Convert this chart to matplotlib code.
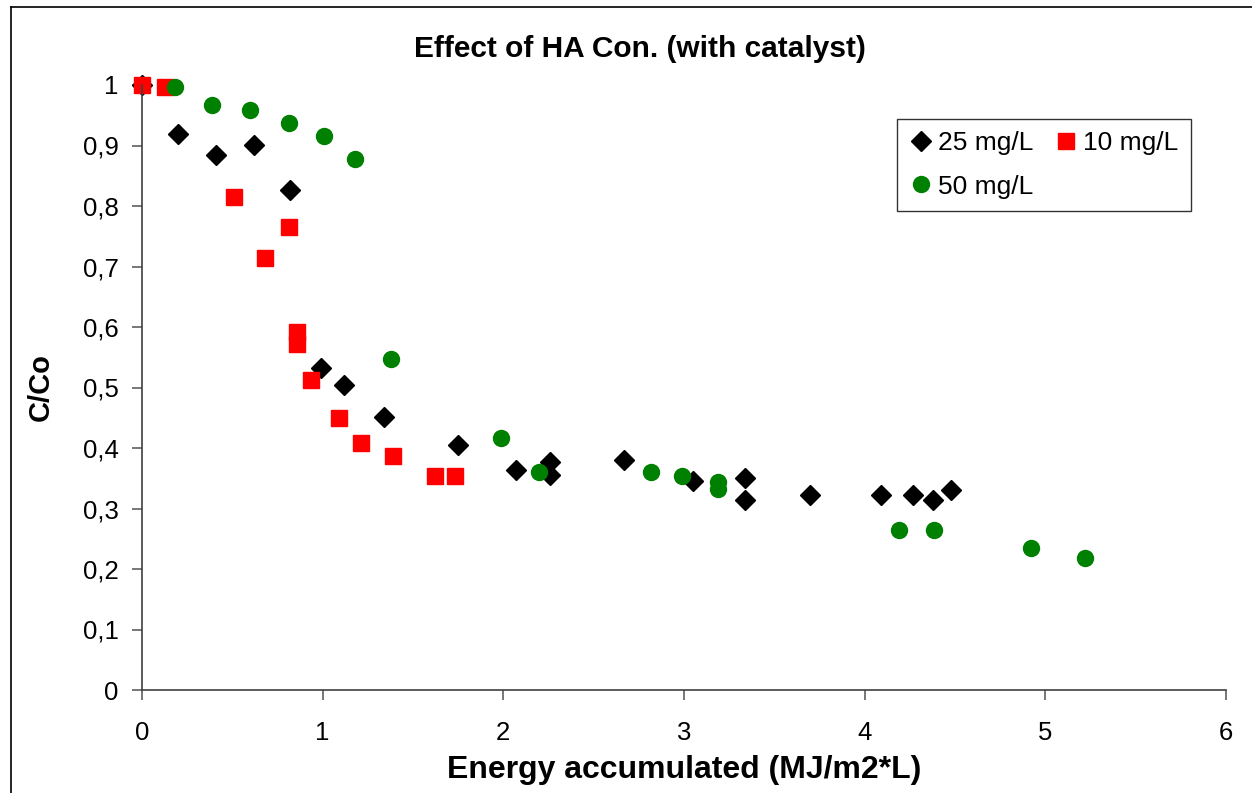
import matplotlib.pyplot as plt
from matplotlib.lines import Line2D
from matplotlib.ticker import FuncFormatter

# 25 mg/L
x25 = [0.0, 0.20, 0.41, 0.62, 0.82, 0.99, 1.12, 1.34, 1.75, 2.07, 2.26, 2.26,
       2.67, 3.05, 3.34, 3.34, 3.70, 4.09, 4.27, 4.38, 4.48]
y25 = [1.0, 0.919, 0.884, 0.901, 0.826, 0.532, 0.504, 0.452, 0.405, 0.364, 0.377, 0.355,
       0.380, 0.346, 0.351, 0.314, 0.322, 0.322, 0.322, 0.314, 0.331]

# 10 mg/L
x10 = [0.0, 0.13, 0.51, 0.68, 0.815, 0.86, 0.86, 0.935, 1.09, 1.21, 1.39, 1.62, 1.73]
y10 = [1.0, 0.997, 0.815, 0.714, 0.765, 0.592, 0.572, 0.512, 0.450, 0.408, 0.386, 0.353, 0.353]

# 50 mg/L
x50 = [0.18, 0.39, 0.60, 0.815, 1.01, 1.18, 1.38, 1.985, 2.20, 2.82, 2.99, 3.19, 3.19,
       4.19, 4.385, 4.92, 5.22]
y50 = [0.997, 0.967, 0.958, 0.937, 0.916, 0.878, 0.547, 0.416, 0.361, 0.361, 0.353, 0.344, 0.332,
       0.264, 0.264, 0.235, 0.218]

plt.rcParams['font.family'] = ['Liberation Sans', 'DejaVu Sans']

W, H = 1252, 793
fig = plt.figure(figsize=(W / 100, H / 100), dpi=100)
ax = fig.add_axes([142 / W, 1 - 690 / H, (1226 - 142) / W, (690 - 85) / H])

h25, = ax.plot(x25, y25, 'D', color='black', ms=10.2, mec='black', label='25 mg/L', clip_on=False)
h10, = ax.plot(x10, y10, 's', color='#ff0000', ms=11.5, mec='#ff0000', label='10 mg/L', clip_on=False)
h50, = ax.plot(x50, y50, 'o', color='#008000', ms=11.5, mec='#008000', label='50 mg/L', clip_on=False)

ax.set_xlim(0, 6)
ax.set_ylim(0, 1)
ax.set_xticks(range(7))
ax.set_yticks([i / 10 for i in range(11)])
ax.yaxis.set_major_formatter(FuncFormatter(lambda v, p: '0' if v == 0 else ('1' if v == 1 else f'{v:.1f}'.replace('.', ','))))

for s in ['top', 'right']:
    ax.spines[s].set_visible(False)
for s in ['left', 'bottom']:
    ax.spines[s].set_color('#404040')
    ax.spines[s].set_linewidth(1.2)
ax.tick_params(direction='out', length=7, width=1.2, color='#606060', labelsize=18.5)
ax.tick_params(axis='x', pad=15)
ax.tick_params(axis='y', pad=10)

ax.set_xlabel('Energy accumulated (MJ/m2*L)', fontsize=23, fontweight='bold')
ax.xaxis.set_label_coords(0.5, (690 - 755) / 605)
ax.set_ylabel('C/Co', fontsize=21, fontweight='bold', labelpad=20)
fig.text(640 / W, 1 - 49 / H, 'Effect of HA Con. (with catalyst)', fontsize=21.5, fontweight='bold',
         ha='center', va='center')

# row-wise order: 25, 10 / 50
leg = ax.legend([h25, h50, h10], ['25 mg/L', '50 mg/L', '10 mg/L'], ncol=2, loc='upper left',
                bbox_to_anchor=((897 - 142) / (1226 - 142), (690 - 119) / 605),
                fontsize=19, frameon=True, fancybox=False, edgecolor='black', borderpad=0.45,
                handletextpad=0.2, columnspacing=0.8, handlelength=0.9, labelspacing=0.75,
                borderaxespad=0)
leg.get_frame().set_linewidth(1.0)

# outer chart border (top and left only)
fig.add_artist(Line2D([11 / W, 11 / W], [0, 1 - 7 / H], color='black', lw=1.2, transform=fig.transFigure))
fig.add_artist(Line2D([11 / W, 1], [1 - 7 / H, 1 - 7 / H], color='black', lw=1.2, transform=fig.transFigure))

fig.savefig('out.png', dpi=100)
